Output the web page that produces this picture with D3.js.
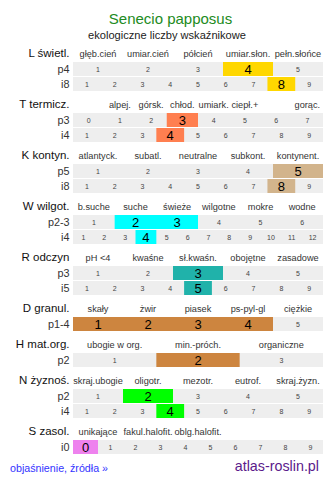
<!DOCTYPE html>
<html><head><meta charset="utf-8">
<script src="https://cdn.jsdelivr.net/npm/d3@7"></script>
<style>
html,body{margin:0;padding:0;background:#fff;}
svg{display:block;font-family:"Liberation Sans",Arial,sans-serif;}
</style></head>
<body>
<svg id="chart" width="334" height="484"></svg>
<script>
// ---- data ----
const title = "Senecio papposus";
const subtitle = "ekologiczne liczby wskaźnikowe";
const sectionNames = ["L świetl.","T termicz.","K kontyn.","W wilgot.","R odczyn","D granul.","H mat.org.","N żyznoś.","S zasol."];
const sectionColors = ["#FFD700","#FF7F50","#D2B48C","#00FFFF","#20B2AA","#CD853F","#CD853F","#00FF00","#EE82EE"];
const categoryLabels = [
  ["głęb.cień","umiar.cień","półcień","umiar.słon.","pełn.słońce"],
  ["","alpej.","górsk.","chłod.","umiark.","ciepł.+","","gorąc."],
  ["atlantyck.","subatl.","neutralne","subkont.","kontynent."],
  ["b.suche","suche","świeże","wilgotne","mokre","wodne"],
  ["pH <4","kwaśne","sł.kwaśn.","obojętne","zasadowe"],
  ["skały","żwir","piasek","ps-pyl-gl","ciężkie"],
  ["ubogie w org.","min.-próch.","organiczne"],
  ["skraj.ubogie","oligotr.","mezotr.","eutrof.","skraj.żyzn."],
  ["unikające","fakul.halofit.","oblg.halofit.","",""]
];
// rows per section: label, first cell value, last cell value, highlighted values
const rowLabels = [["p4","i8"],["p3","i4"],["p5","i8"],["p2-3","i4"],["p3","i5"],["p1-4"],["p2"],["p2","i4"],["i0"]];
const rowFirst  = [[1,1],[0,1],[1,1],[1,1],[1,1],[1],[1],[1,1],[0]];
const rowLast   = [[5,9],[7,9],[5,9],[6,12],[5,9],[5],[3],[5,9],[9]];
const rowValues = [[[4],[8]],[[3],[4]],[[5],[8]],[[2,3],[4]],[[3],[5]],[[1,2,3,4]],[[2]],[[2],[4]],[[0]]];

// ---- layout ----
const svg = d3.select("#chart");
const x0 = 73, x1 = 323, labelX = 69.5;
const rowPitch = 15, rowH = 14, sectionGap = 21;

svg.append("text").attr("x",170.5).attr("y",24).attr("text-anchor","middle")
  .attr("font-size",15).attr("fill","#228B22").text(title);
svg.append("text").attr("x",167).attr("y",38.5).attr("text-anchor","middle")
  .attr("font-size",11.1).attr("fill","#222").text(subtitle);

let yTop = 62;
sectionNames.forEach((name, si) => {
  const g = svg.append("g");
  g.append("text").attr("x",labelX).attr("y",yTop-5).attr("text-anchor","end")
    .attr("font-size",11.5).attr("fill","#111").text(name);
  const labs = categoryLabels[si];
  const lscale = d3.scaleBand().domain(d3.range(labs.length)).range([x0,x1]);
  labs.forEach((lab,i) => {
    if (!lab) return;
    const t = g.append("text").attr("y",yTop-5).attr("font-size",9.2).attr("fill","#333").text(lab);
    const w = t.node().getComputedTextLength();
    let cx = lscale(i) + lscale.bandwidth()/2;
    let left = cx - w/2;
    if (left < x0) left = x0;
    if (left + w > x1) left = x1 - w;
    t.attr("x",left);
  });
  rowLabels[si].forEach((rl, ri) => {
    const y = yTop + ri*rowPitch;
    const cells = d3.range(rowFirst[si][ri], rowLast[si][ri]+1);
    const xs = d3.scaleBand().domain(cells).range([x0,x1]);
    const vals = rowValues[si][ri];
    g.append("text").attr("x",labelX).attr("y",y+11).attr("text-anchor","end")
      .attr("font-size",10.8).attr("fill","#333").text(rl);
    g.append("rect").attr("x",x0).attr("y",y).attr("width",x1-x0).attr("height",rowH).attr("fill","#EEEEEE");
    const lo = d3.min(vals), hi = d3.max(vals);
    g.append("rect").attr("x",xs(lo)).attr("y",y)
      .attr("width",xs(hi)+xs.bandwidth()-xs(lo)).attr("height",rowH).attr("fill",sectionColors[si]);
    cells.forEach(c => {
      const hl = vals.includes(c);
      g.append("text").attr("x",xs(c)+xs.bandwidth()/2).attr("y",hl? y+12 : y+9.5)
        .attr("text-anchor","middle").attr("font-size",hl?13:7).attr("fill",hl?"#000":"#444").text(c);
    });
  });
  yTop += rowLabels[si].length*rowPitch + sectionGap;
});

svg.append("text").attr("x",10).attr("y",472).attr("font-size",10.7).attr("fill","#3333FF").text("objaśnienie, źródła »");
svg.append("text").attr("x",319).attr("y",471).attr("text-anchor","end").attr("font-size",14.3).attr("fill","#5B1A8B").text("atlas-roslin.pl");
</script>
</body></html>
